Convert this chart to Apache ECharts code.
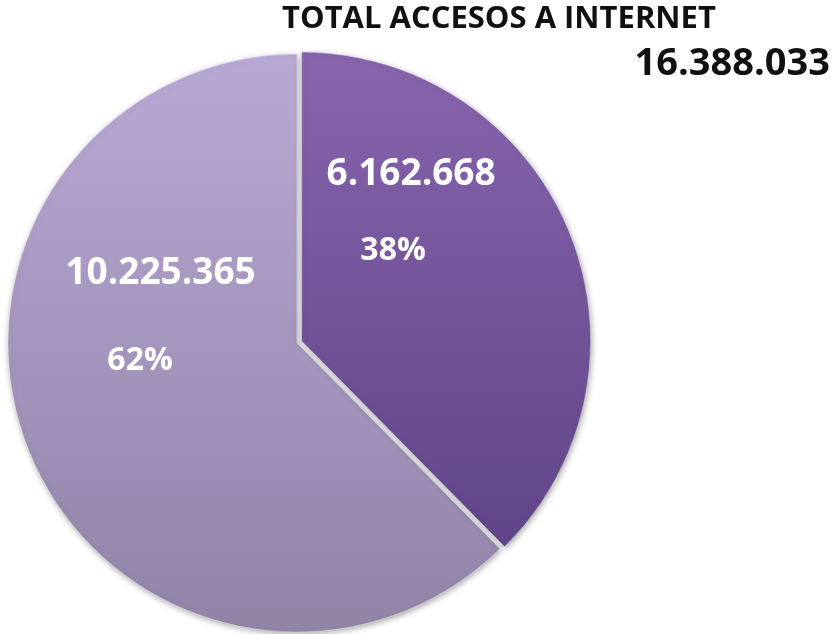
<!DOCTYPE html>
<html>
<head>
<meta charset="utf-8">
<script src="https://cdn.jsdelivr.net/npm/echarts@6/dist/echarts.min.js"></script>
<style>
html,body{margin:0;padding:0;background:#fff;}
#chart{width:832px;height:634px;}
</style>
</head>
<body>
<div id="chart"></div>
<script>
var titleText = 'TOTAL ACCESOS A INTERNET';
var totalText = '16.388.033';
var categories = ['Grupo A', 'Grupo B'];
var values = [6162668, 10225365];
var valueLabels = ['6.162.668', '10.225.365'];
var percentLabels = ['38%', '62%'];

var fills = [
  ['#8765ad', '#5f4587'],
  ['#b9a8d4', '#9083a6']
];
var labelOffsets = [[-27, -54], [0, -58]];
var secondLineHeights = [114, 135];
var percentShift = [36, 41];

var chart = echarts.init(document.getElementById('chart'), null, {renderer: 'canvas'});

var data = values.map(function (v, i) {
  return {
    name: categories[i],
    value: v,
    selected: i === 0,
    itemStyle: {
      color: {
        type: 'linear', x: 0, y: 0, x2: 0, y2: 1,
        colorStops: [{offset: 0, color: fills[i][0]}, {offset: 1, color: fills[i][1]}]
      }
    },
    label: {
      formatter: '{v|' + valueLabels[i] + '}\n{p|' + percentLabels[i] + '}',
      rich: {
        v: {fontSize: 37, fontWeight: 'bold', color: '#fff', fontFamily: 'Open Sans', lineHeight: 40, align: 'center'},
        p: {fontSize: 32, fontWeight: 'bold', color: '#fff', fontFamily: 'Open Sans', lineHeight: secondLineHeights[i], align: 'center', padding: [0, percentShift[i], 0, 0]}
      }
    }
  };
});

chart.setOption({
  animation: false,
  title: [
    {text: titleText, left: 277, top: -1, textStyle: {fontFamily: 'Open Sans', fontWeight: 'bold', fontSize: 31, color: '#111'}},
    {text: totalText, right: -3, top: 40, textStyle: {fontFamily: 'Open Sans', fontWeight: 'bold', fontSize: 38, color: '#111'}}
  ],
  series: [{
    type: 'pie',
    center: [297, 343],
    radius: [0, 289],
    startAngle: 90,
    clockwise: true,
    selectedMode: 'single',
    selectedOffset: 5,
    emphasis: {scale: false},
    itemStyle: {
      borderColor: 'rgba(255,255,255,0.35)',
      borderWidth: 1,
      shadowBlur: 6,
      shadowColor: 'rgba(0,0,0,0.35)',
      shadowOffsetX: 1,
      shadowOffsetY: 2
    },
    label: {show: true, position: 'inside'},
    labelLine: {show: false},
    labelLayout: function (params) {
      var o = labelOffsets[params.dataIndex];
      return {dx: o[0], dy: o[1]};
    },
    data: data
  }]
});
</script>
</body>
</html>
